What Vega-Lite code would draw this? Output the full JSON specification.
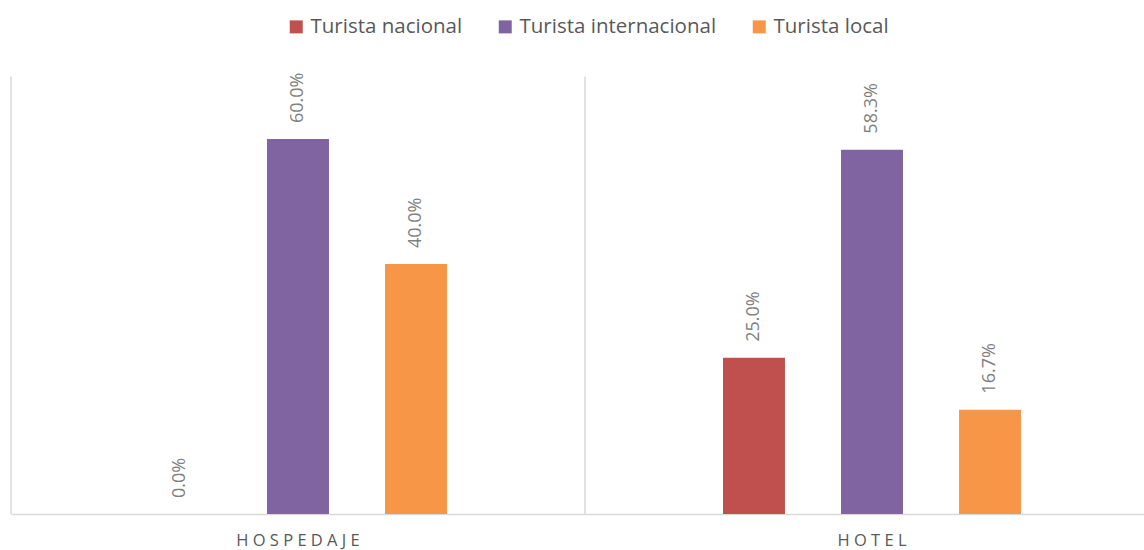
{
  "$schema": "https://vega.github.io/schema/vega-lite/v6.json",
  "width": 1133,
  "height": 437.5,
  "autosize": {"type": "none"},
  "padding": {"left": 11, "top": 76.5, "right": 0, "bottom": 36},
  "config": {
    "view": {"stroke": null},
    "font": "Open Sans"
  },
  "encoding": {
    "x": {
      "field": "tipo",
      "type": "nominal",
      "sort": ["HOSPEDAJE", "HOTEL"],
      "scale": {"paddingInner": 0, "paddingOuter": 0, "range": [0, 1148]},
      "axis": {
        "title": null,
        "ticks": false,
        "grid": false,
        "domain": true,
        "domainColor": "#d9d9d9",
        "domainWidth": 1.5,
        "labelAngle": 0,
        "labelFont": "Open Sans",
        "labelFontSize": 16.5,
        "labelColor": "#595959",
        "labelPadding": 18,
        "labelExpr": "join(split(datum.label, ''), ' ')"
      }
    }
  },
  "layer": [
    {
      "data": {"values": [{"tipo": "HOSPEDAJE"}, {"tipo": "HOTEL"}]},
      "mark": {"type": "rule", "color": "#d9d9d9", "strokeWidth": 1.5},
      "encoding": {
        "x": {"field": "tipo", "type": "nominal", "bandPosition": 0}
      }
    },
    {
      "data": {
        "name": "vals",
        "values": [
          {"tipo": "HOSPEDAJE", "turista": "Turista nacional", "valor": 0.0},
          {"tipo": "HOSPEDAJE", "turista": "Turista internacional", "valor": 0.6},
          {"tipo": "HOSPEDAJE", "turista": "Turista local", "valor": 0.4},
          {"tipo": "HOTEL", "turista": "Turista nacional", "valor": 0.25},
          {"tipo": "HOTEL", "turista": "Turista internacional", "valor": 0.583},
          {"tipo": "HOTEL", "turista": "Turista local", "valor": 0.167}
        ]
      },
      "encoding": {
        "xOffset": {
          "field": "turista",
          "type": "nominal",
          "sort": ["Turista nacional", "Turista internacional", "Turista local"],
          "scale": {"paddingInner": 0.475, "paddingOuter": 0, "range": [138, 436]}
        },
        "y": {
          "field": "valor",
          "type": "quantitative",
          "scale": {"domain": [0, 0.7], "nice": false, "zero": true},
          "axis": null
        }
      },
      "layer": [
        {
          "mark": {"type": "bar"},
          "encoding": {
            "color": {
              "field": "turista",
              "type": "nominal",
              "sort": ["Turista nacional", "Turista internacional", "Turista local"],
              "scale": {
                "domain": ["Turista nacional", "Turista internacional", "Turista local"],
                "range": ["#C0504D", "#8064A2", "#F79646"]
              },
              "legend": {
                "orient": "none",
                "legendX": 275,
                "legendY": -60,
                "direction": "horizontal",
                "title": null,
                "symbolType": "square",
                "symbolSize": 169,
                "symbolStrokeWidth": 0,
                "labelFont": "Open Sans",
                "labelFontSize": 20.5,
                "labelColor": "#595959",
                "labelOffset": 4,
                "labelLimit": 500,
                "columnPadding": 32
              }
            }
          }
        },
        {
          "mark": {
            "type": "text",
            "angle": -90,
            "align": "left",
            "baseline": "middle",
            "dx": 16,
            "font": "Open Sans",
            "fontSize": 18,
            "color": "#7f7f7f"
          },
          "encoding": {
            "text": {"field": "valor", "type": "quantitative", "format": ".1%"}
          }
        }
      ]
    }
  ]
}
